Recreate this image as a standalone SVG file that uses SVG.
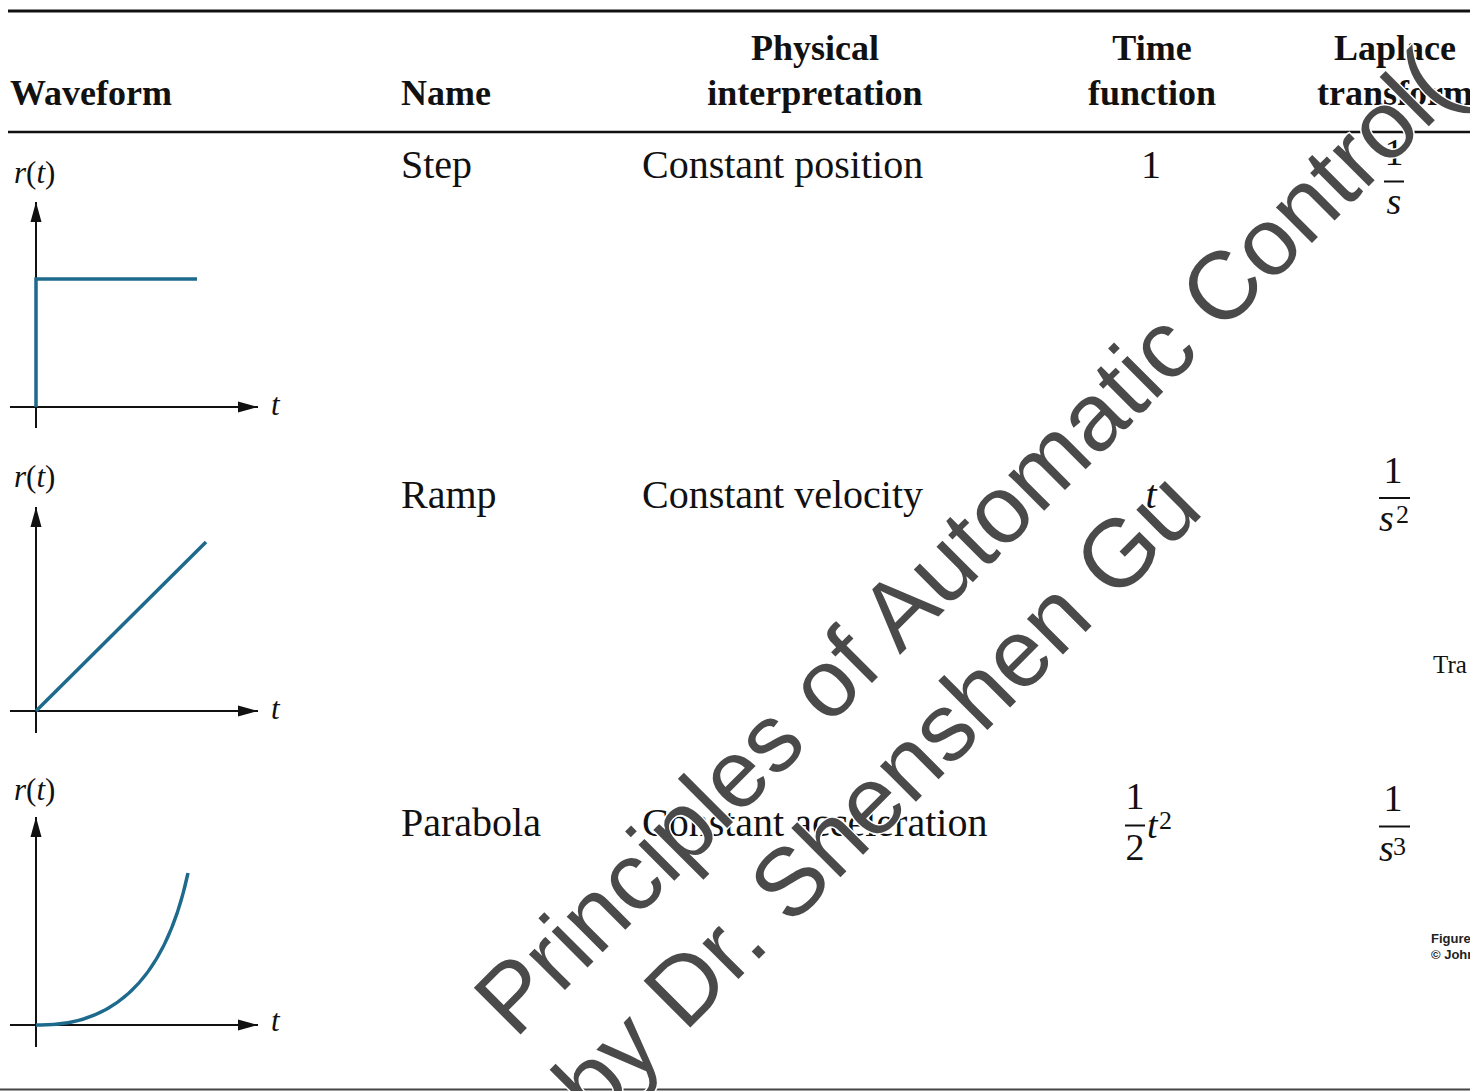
<svg xmlns="http://www.w3.org/2000/svg" width="1470" height="1091" viewBox="0 0 1470 1091">
<style>
.h{font-family:"Liberation Serif","Times New Roman",serif;font-weight:bold;font-size:36px;fill:#111}
.b{font-family:"Liberation Serif","Times New Roman",serif;font-size:40px;fill:#111}
.m{font-family:"Liberation Serif","Times New Roman",serif;font-size:38px;fill:#111}
.sup{font-family:"Liberation Serif","Times New Roman",serif;font-size:26px;fill:#111}
.lab{font-family:"Liberation Serif","Times New Roman",serif;font-size:31px;fill:#111}
.i{font-style:italic}
.ax{stroke:#111;stroke-width:2;fill:none}
.wave{stroke:#1d6a8d;stroke-width:3.5;fill:none}
.bar{stroke:#111;stroke-width:2}
.rule{stroke:#111;fill:none}
.wm{font-family:"Liberation Sans",Arial,sans-serif;font-size:96px;fill:#4a4a4a;stroke:#fff;stroke-width:3;paint-order:stroke}
.fig{font-family:"Liberation Sans",Arial,sans-serif;font-weight:bold;font-size:13px;fill:#222}
</style>
<defs>
<marker id="arr" markerUnits="userSpaceOnUse" markerWidth="21" markerHeight="12" refX="20" refY="6" orient="auto">
<path d="M0,0.5 L20,6 L0,11.5 Z" fill="#111"/>
</marker>
</defs>
<rect width="1470" height="1091" fill="#fff"/>

<g id="table-rules">
<line class="rule" x1="8" y1="11" x2="1470" y2="11" stroke-width="3"/>
<line class="rule" x1="8" y1="132" x2="1470" y2="132" stroke-width="2.5"/>
<line x1="0" y1="1089.5" x2="1470" y2="1089.5" stroke="#444" stroke-width="2"/>
</g>

<g id="header">
<text class="h" x="10" y="105">Waveform</text>
<text class="h" x="401" y="105">Name</text>
<text class="h" x="815" y="60" text-anchor="middle">Physical</text>
<text class="h" x="815" y="105" text-anchor="middle">interpretation</text>
<text class="h" x="1152" y="60" text-anchor="middle">Time</text>
<text class="h" x="1152" y="105" text-anchor="middle">function</text>
<text class="h" x="1395" y="60" text-anchor="middle">Laplace</text>
<text class="h" x="1395" y="105" text-anchor="middle">transform</text>
</g>

<g id="row-step">
<g id="graph-step">
<text class="lab" x="14" y="183"><tspan class="i">r</tspan>(<tspan class="i">t</tspan>)</text>
<line class="ax" x1="36" y1="428" x2="36" y2="202" marker-end="url(#arr)"/>
<line class="ax" x1="10" y1="407" x2="258" y2="407" marker-end="url(#arr)"/>
<text class="lab i" x="271" y="415">t</text>
<polyline class="wave" points="36,407 36,279 197,279" stroke-linejoin="miter"/>
</g>
<text class="b" x="401" y="178">Step</text>
<text class="b" x="642" y="178">Constant position</text>
<text class="b" x="1151" y="178" text-anchor="middle">1</text>
<text class="m" x="1394" y="165" text-anchor="middle">1</text>
<line class="bar" x1="1384" y1="181.5" x2="1404" y2="181.5"/>
<text class="m i" x="1394" y="214" text-anchor="middle">s</text>
</g>

<g id="row-ramp">
<g id="graph-ramp">
<text class="lab" x="14" y="487"><tspan class="i">r</tspan>(<tspan class="i">t</tspan>)</text>
<line class="ax" x1="36" y1="733" x2="36" y2="507" marker-end="url(#arr)"/>
<line class="ax" x1="10" y1="711" x2="258" y2="711" marker-end="url(#arr)"/>
<text class="lab i" x="271" y="719">t</text>
<line class="wave" x1="36" y1="711" x2="206" y2="542"/>
</g>
<text class="b" x="401" y="508">Ramp</text>
<text class="b" x="642" y="508">Constant velocity</text>
<text class="b i" x="1151" y="508" text-anchor="middle">t</text>
<text class="m" x="1393" y="483" text-anchor="middle">1</text>
<line class="bar" x1="1379" y1="498" x2="1410" y2="498"/>
<text class="m i" x="1379" y="531">s</text>
<text class="sup" x="1396" y="523">2</text>
</g>

<g id="row-parabola">
<g id="graph-parabola">
<text class="lab" x="14" y="800"><tspan class="i">r</tspan>(<tspan class="i">t</tspan>)</text>
<line class="ax" x1="36" y1="1047" x2="36" y2="817" marker-end="url(#arr)"/>
<line class="ax" x1="10" y1="1025" x2="258" y2="1025" marker-end="url(#arr)"/>
<text class="lab i" x="271" y="1031">t</text>
<path class="wave" d="M36,1025 C105,1027 163,990 188,873"/>
</g>
<text class="b" x="401" y="836">Parabola</text>
<text class="b" x="642" y="836">Constant acceleration</text>
<text class="m" x="1135" y="809" text-anchor="middle">1</text>
<line class="bar" x1="1125" y1="825.5" x2="1145" y2="825.5"/>
<text class="m" x="1135" y="860" text-anchor="middle">2</text>
<text class="m i" x="1147" y="838">t</text>
<text class="sup" x="1159" y="829">2</text>
<text class="m" x="1393" y="811" text-anchor="middle">1</text>
<line class="bar" x1="1379" y1="826.5" x2="1410" y2="826.5"/>
<text class="m i" x="1379" y="861">s</text>
<text class="sup" x="1393" y="855">3</text>
</g>

<g id="side-notes">
<text class="b" x="1433" y="673" style="font-size:25px">Tra</text>
<text class="fig" x="1431" y="943">Figure</text>
<text class="fig" x="1431" y="959">© John</text>
</g>

<g id="watermark" transform="rotate(-45 515 1040)">
<text class="wm" x="515" y="1040">Principles of Automatic Control(</text>
<text class="wm" x="512" y="1155">by Dr. Shenshen Gu</text>
</g>
</svg>
